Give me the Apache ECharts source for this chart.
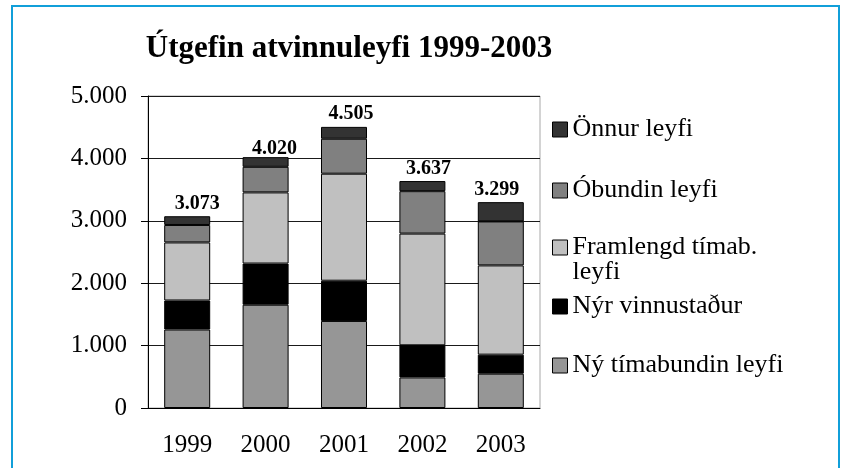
<!DOCTYPE html>
<html>
<head>
<meta charset="utf-8">
<script src="https://cdn.jsdelivr.net/npm/echarts@6/dist/echarts.min.js"></script>
<style>
  html, body { margin: 0; padding: 0; background: #fff; }
  #chart { width: 842px; height: 468px; }
</style>
</head>
<body>
<div id="chart"></div>
<script>
let years = ['1999', '2000', '2001', '2002', '2003']

// gildi lesin af myndinni, neðst til efst
let nyTimabundin = [1258, 1655, 1395, 490, 550]
let nyrVinnustadur = [465, 660, 645, 515, 305]
let framlengd = [930, 1140, 1715, 1790, 1430]
let obundin = [280, 410, 560, 680, 705]
let onnur = [140, 155, 190, 162, 309]
let totals = [3073, 4020, 4505, 3637, 3299]

// merkin fyrir ofan súlurnar eru aðeins færð til í frumritinu
let labelNudge = [[10, 0], [9, 4], [7, -1], [6, 0], [-4, 0]]

let serif = 'Liberation Serif, Times New Roman, serif'

function fmt(v) {
  return String(v).replace(/\B(?=(\d{3})+(?!\d))/g, '.')
}

let myChart = echarts.init(document.getElementById('chart'))

function bar(name, data, color) {
  return {
    name: name,
    type: 'bar',
    stack: 'leyfi',
    barWidth: 46,
    data: data,
    itemStyle: { color: color, borderColor: '#000', borderWidth: 1 }
  }
}

function legendItem(name, top, extra) {
  let l = {
    data: [name],
    left: 552,
    top: top,
    padding: 0,
    orient: 'vertical',
    icon: 'rect',
    itemWidth: 15,
    itemHeight: 15,
    selectedMode: false,
    itemStyle: { borderColor: '#000', borderWidth: 1 },
    textStyle: { fontFamily: serif, fontSize: 26, lineHeight: 25, color: '#000' }
  }
  return Object.assign(l, extra || {})
}

let topSeries = bar('Önnur leyfi', onnur.map(function (v, i) {
  return { value: v, label: { offset: labelNudge[i] } }
}), '#333333')
topSeries.label = {
  show: true,
  position: 'top',
  distance: 2,
  formatter: function (p) { return fmt(totals[p.dataIndex]) },
  fontFamily: serif,
  fontWeight: 'bold',
  fontSize: 20,
  color: '#000'
}

let option = {
  animation: false,
  title: {
    text: 'Útgefin atvinnuleyfi 1999-2003',
    left: 349,
    textAlign: 'center',
    top: 33,
    padding: 0,
    textStyle: { fontFamily: serif, fontWeight: 'bold', fontSize: 31, color: '#000' }
  },
  graphic: [{
    type: 'rect',
    shape: { x: 12, y: 6, width: 827, height: 500 },
    style: { fill: 'none', stroke: '#119fd9', lineWidth: 2 },
    silent: true
  }],
  legend: [
    legendItem('Önnur leyfi', 116.5),
    legendItem('Óbundin leyfi', 177.5),
    // ferningurinn á móts við fyrri línuna
    legendItem('Framlengd tímab. leyfi', 234.5, {
      icon: 'path://M0,0L15,0L15,15L0,15Z M15,40L15,40',
      itemHeight: 40,
      formatter: function () { return 'Framlengd tímab.\nleyfi' }
    }),
    legendItem('Nýr vinnustaður', 293.5),
    legendItem('Ný tímabundin leyfi', 352.5)
  ],
  grid: {
    left: 148,
    right: 302,
    top: 96,
    bottom: 60,
    show: true,
    borderColor: '#a8a8a8',
    borderWidth: 1
  },
  xAxis: {
    type: 'category',
    data: years,
    axisLine: { lineStyle: { color: '#000', width: 1 } },
    axisTick: { length: 8, lineStyle: { color: '#000' } },
    axisLabel: { fontFamily: serif, fontSize: 25, color: '#000', margin: 25 }
  },
  yAxis: {
    type: 'value',
    min: 0,
    max: 5000,
    interval: 1000,
    axisLine: { show: true, lineStyle: { color: '#000', width: 1 } },
    axisTick: { show: true, length: 7, lineStyle: { color: '#000' } },
    axisLabel: { fontFamily: serif, fontSize: 25, color: '#000', margin: 21, formatter: fmt },
    splitLine: { lineStyle: { color: '#1a1a1a', width: 1 } }
  },
  series: [
    bar('Ný tímabundin leyfi', nyTimabundin, '#969696'),
    bar('Nýr vinnustaður', nyrVinnustadur, '#000000'),
    bar('Framlengd tímab. leyfi', framlengd, '#c0c0c0'),
    bar('Óbundin leyfi', obundin, '#808080'),
    topSeries
  ]
}

myChart.setOption(option)
</script>
</body>
</html>
